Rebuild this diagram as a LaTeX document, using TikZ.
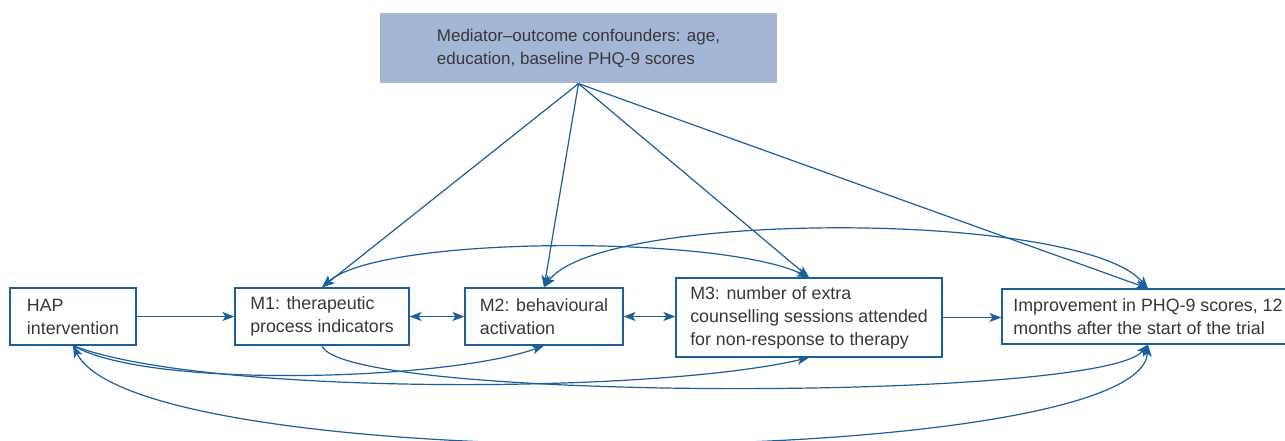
\documentclass[tikz,border=0pt]{standalone}
\usepackage{fontspec}
\setmainfont{Liberation Sans}
\usetikzlibrary{arrows.meta}
\definecolor{linkblue}{RGB}{26,94,154}
\definecolor{conffill}{RGB}{163,182,213}
\definecolor{txtgray}{RGB}{55,55,55}

\begin{document}
\begin{tikzpicture}[x=1pt, y=-1pt,
    box/.style={draw=linkblue, line width=1.2pt, align=left, text=txtgray,
        font=\fontsize{17.8}{23}\selectfont, inner sep=0pt, minimum height=57pt},
    link/.style={draw=linkblue, line width=1.2pt, -{Stealth[length=12pt,width=9pt,inset=3pt]}},
    both/.style={link, {Stealth[length=12pt,width=9pt,inset=3pt]}-{Stealth[length=12pt,width=9pt,inset=3pt]}}]
    \useasboundingbox (0,0) rectangle (1285,441);
    \node[box, draw=none, fill=conffill, font=\fontsize{17}{23}\selectfont,
        minimum width=397pt, minimum height=70pt] (conf) at (578.5,48)
        {Mediator--outcome confounders: age,\\education, baseline PHQ-9 scores};
    \node[box, minimum width=126pt] (hap) at (73,316.5) {HAP\\intervention};
    \node[box, minimum width=174pt] (m1) at (322,316.5) {M1: therapeutic\\process indicators};
    \node[box, minimum width=158pt] (m2) at (544,316.5) {M2: behavioural\\activation};
    \node[box, minimum width=266pt, minimum height=79pt] (m3) at (809,317.5)
        {M3: number of extra\\counselling sessions attended\\for non-response to therapy};
    \node[box, minimum width=292pt, minimum height=55pt] (imp) at (1148,316.5)
        {Improvement in PHQ-9 scores, 12\\months after the start of the trial};
    % main chain
    \draw[link] (hap) -- (m1);
    \draw[both] (m1) -- (m2);
    \draw[both] (m2.east) -- (m2.east -| m3.west);
    \draw[link] (m3.east) -- (m3.east -| imp.west);
    % confounders
    \foreach \t in {m1,m2,m3,imp}
        \draw[link] (conf.south) -- (\t.north);
    % curved links
    \draw[both] (m1.north) .. controls (380,235) and (720,235) .. (m3.north);
    \draw[both] (m2.north) .. controls (600,210) and (1080,210) .. (imp.north);
    \draw[link] (hap.south) .. controls (150,390) and (450,380) .. (m2.south);
    \draw[link] (hap.south) .. controls (200,395) and (650,395) .. (m3.south);
    \draw[link] (m1.south) .. controls (340,402) and (1100,402) .. (imp.south);
    \draw[both] (hap.south) .. controls (140,480) and (1140,470) .. (imp.south);
\end{tikzpicture}
\end{document}
